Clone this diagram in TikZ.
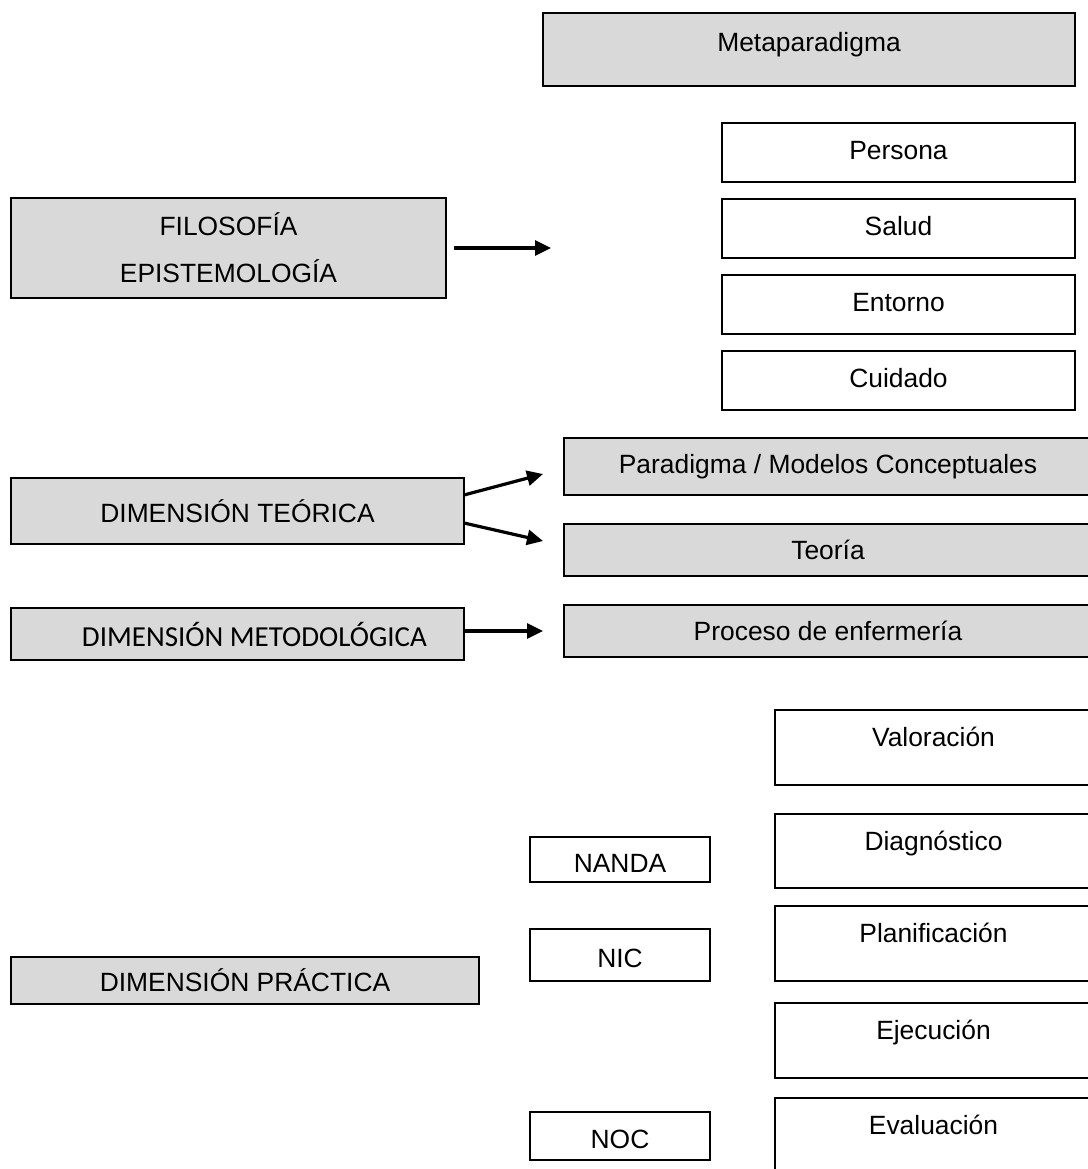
\documentclass[tikz,border=0pt]{standalone}
\usepackage{fontspec}
\setmainfont{Liberation Sans}
\newfontfamily\calibfont{Carlito}
\usetikzlibrary{arrows.meta}
\definecolor{boxgray}{RGB}{217,217,217}

\begin{document}
\begin{tikzpicture}[x=0.5pt,y=-0.5pt,
	font=\fontsize{13.2pt}{15.8pt}\selectfont,
	greybox/.style={draw, line width=0.9pt, fill=boxgray, inner sep=0pt, outer sep=0pt, anchor=north west},
	whitebox/.style={draw, line width=0.9pt, fill=white, inner sep=0pt, outer sep=0pt, anchor=north west},
	baseat/.style 2 args={text height=#1, text depth=#2},
	arr/.style={line width=1.6pt, -{Triangle[length=8pt,width=7.5pt]}}]
	
	\useasboundingbox (0,0) rectangle (1088,1169);
	
	% --- Metaparadigma ---
	\node[greybox, minimum width=266pt, minimum height=36.5pt, baseat={19pt}{17.5pt}] (meta) at (543,13) {Metaparadigma};
	
	\node[whitebox, minimum width=176.5pt, minimum height=29.5pt, baseat={18.25pt}{11.25pt}] (persona) at (722,123) {Persona};
	\node[whitebox, minimum width=176.5pt, minimum height=29.5pt, baseat={18.25pt}{11.25pt}] (salud) at (722,199) {Salud};
	\node[whitebox, minimum width=176.5pt, minimum height=29.5pt, baseat={18.25pt}{11.25pt}] (entorno) at (722,275) {Entorno};
	\node[whitebox, minimum width=176.5pt, minimum height=29.5pt, baseat={18.25pt}{11.25pt}] (cuidado) at (722,351) {Cuidado};
	
	% --- Filosofia ---
	\node[greybox, minimum width=217.5pt, minimum height=50pt, align=center, font=\fontsize{13.2pt}{23.5pt}\selectfont] (filo) at (11,198) {FILOSOFÍA\\EPISTEMOLOGÍA};
	\coordinate (filotip) at (551,248);
	\draw[arr, shorten <=4pt] (filo.east |- filotip) -- (filotip);
	
	% --- Dimension teorica ---
	\node[greybox, minimum width=226.5pt, minimum height=33pt] (teor) at (11,478) {DIMENSIÓN TEÓRICA};
	\node[greybox, minimum width=264pt, minimum height=28.5pt] (para) at (564,438) {Paradigma / Modelos Conceptuales};
	\node[greybox, minimum width=264pt, minimum height=26pt] (teoria) at (564,524) {Teoría};
	
	\coordinate (paratip) at (543,474);
	\coordinate (teotip) at (543,541);
	\draw[arr] ([yshift=8pt]teor.east) -- (paratip);
	\draw[arr] ([yshift=-6pt]teor.east) -- (teotip);
	
	% --- Dimension metodologica ---
	\node[greybox, minimum width=226.5pt, minimum height=26pt, font=\calibfont\fontsize{14.5pt}{17.5pt}\selectfont] (metod) at (11,608) {\hspace*{17pt}DIMENSIÓN METODOLÓGICA};
	\node[greybox, minimum width=264pt, minimum height=26pt] (proceso) at (564,605) {Proceso de enfermería};
	\coordinate (proctip) at (543,631);
	\draw[arr] (metod.east |- proctip) -- (proctip);
	
	% --- Etapas del proceso ---
	\node[whitebox, minimum width=158.5pt, minimum height=37.5pt, baseat={18.25pt}{19.25pt}] (valor) at (775,710) {Valoración};
	\node[whitebox, minimum width=158.5pt, minimum height=37pt, baseat={18.25pt}{18.75pt}] (diag) at (775,814) {Diagnóstico};
	\node[whitebox, minimum width=158.5pt, minimum height=37.5pt, baseat={18.25pt}{19.25pt}] (plan) at (775,906) {Planificación};
	\node[whitebox, minimum width=158.5pt, minimum height=37.5pt, baseat={18.25pt}{19.25pt}] (ejec) at (775,1003) {Ejecución};
	\node[whitebox, minimum width=158.5pt, minimum height=45pt, baseat={18.25pt}{26.75pt}] (eval) at (775,1098) {Evaluación};
	
	% --- Taxonomias ---
	\node[whitebox, minimum width=90pt, minimum height=22.5pt, baseat={17.5pt}{5pt}] (nanda) at (530,837) {NANDA};
	\node[whitebox, minimum width=90pt, minimum height=26pt, baseat={19pt}{7pt}] (nic) at (530,929) {NIC};
	\node[whitebox, minimum width=90pt, minimum height=24pt, baseat={18pt}{6pt}] (noc) at (530,1112) {NOC};
	
	% --- Dimension practica ---
	\node[greybox, minimum width=234pt, minimum height=23.5pt] (practica) at (11,957) {DIMENSIÓN PRÁCTICA};
	
\end{tikzpicture}
\end{document}
